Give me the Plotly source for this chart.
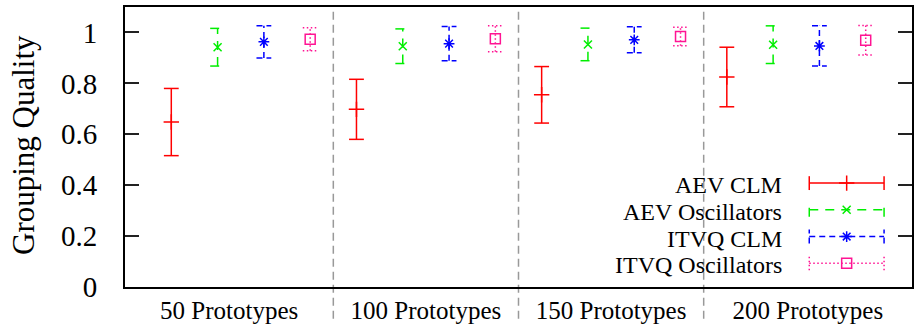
import plotly.graph_objects as go

# ---------------- data ----------------
groups = ["50 Prototypes", "100 Prototypes", "150 Prototypes", "200 Prototypes"]
series_names = ["AEV CLM", "AEV Oscillators", "ITVQ CLM", "ITVQ Oscillators"]

aev_clm_mean = [0.648, 0.698, 0.755, 0.825]
aev_clm_err = [0.132, 0.118, 0.111, 0.117]
aev_osc_mean = [0.942, 0.946, 0.953, 0.952]
aev_osc_err = [0.074, 0.068, 0.064, 0.074]
itvq_clm_mean = [0.963, 0.956, 0.971, 0.947]
itvq_clm_err = [0.063, 0.067, 0.051, 0.079]
itvq_osc_mean = [0.973, 0.975, 0.984, 0.969]
itvq_osc_err = [0.045, 0.051, 0.036, 0.058]

y_ticks = [0, 0.2, 0.4, 0.6, 0.8, 1]
y_tick_labels = ["0", "0.2", "0.4", "0.6", "0.8", "1"]

# ---------------- styles ----------------
FONT = "Liberation Serif"
styles = [
    dict(color="#ff0000", dash="solid", symbol="cross-thin", size=11),
    dict(color="#00ee00", dash="9px,7px", symbol="x-thin", size=8),
    dict(color="#0000ff", dash="6px,4px", symbol="asterisk", size=9),
    dict(color="#ff1493", dash="1.5px,2.5px", symbol="square-open", size=10),
]
means = [aev_clm_mean, aev_osc_mean, itvq_clm_mean, itvq_osc_mean]
errs = [aev_clm_err, aev_osc_err, itvq_clm_err, itvq_osc_err]

n_series = len(series_names)
n_groups = len(groups)
cap = 0.16  # half cap width in x units

fig = go.Figure()

for s in range(n_series):
    st = styles[s]
    xs = [g * n_series + s + 1 for g in range(n_groups)]
    px, py = [], []
    for x, m, e in zip(xs, means[s], errs[s]):
        lo, hi = m - e, m + e
        px += [x - cap, x + cap, None, x, x, None, x - cap, x + cap, None]
        py += [lo, lo, None, lo, hi, None, hi, hi, None]
    fig.add_trace(go.Scatter(x=px, y=py, mode="lines", showlegend=False,
                             line=dict(color=st["color"], width=1.5, dash=st["dash"]),
                             hoverinfo="skip"))
    fig.add_trace(go.Scatter(x=xs, y=means[s], mode="markers", name=series_names[s],
                             showlegend=False,
                             marker=dict(symbol=st["symbol"], size=st["size"],
                                         color=st["color"],
                                         line=dict(color=st["color"], width=1.5))))

# ---------------- custom legend (overlay axes in pixel units) ----------------
PW, PH = 789, 283
leg_text_x = 660
leg_a, leg_b = 686, 761
leg_rows = [105, 78, 51, 24]
leg_cap = 7
for s in range(n_series):
    st = styles[s]
    yy = leg_rows[s]
    fig.add_trace(go.Scatter(
        x=[leg_a, leg_a, None, leg_a, leg_b, None, leg_b, leg_b],
        y=[yy - leg_cap, yy + leg_cap, None, yy, yy, None, yy - leg_cap, yy + leg_cap],
        mode="lines", xaxis="x2", yaxis="y2", showlegend=False, hoverinfo="skip",
        line=dict(color=st["color"], width=1.5, dash=st["dash"])))
    fig.add_trace(go.Scatter(
        x=[(leg_a + leg_b) / 2], y=[yy], mode="markers", xaxis="x2", yaxis="y2",
        showlegend=False, hoverinfo="skip",
        marker=dict(symbol=st["symbol"], size=st["size"], color=st["color"],
                    line=dict(color=st["color"], width=1.5))))
    fig.add_annotation(x=leg_text_x, y=yy, xref="x2", yref="y2", text=series_names[s],
                       showarrow=False, xanchor="right", yanchor="middle", yshift=-2,
                       height=24, borderpad=0,
                       font=dict(family=FONT, size=24, color="black"))

# ---------------- separators ----------------
bounds = [0] + [g * n_series + n_series + 0.5 for g in range(n_groups - 1)] + [n_groups * n_series + 1]
for b in bounds[1:-1]:
    fig.add_shape(type="line", x0=b, x1=b, xref="x", y0=-0.113, y1=1, yref="paper",
                  line=dict(color="#999999", width=1.5, dash="8px,5px"), layer="below")
centers = [(bounds[i] + bounds[i + 1]) / 2 for i in range(n_groups)]

# y axis title
fig.add_annotation(x=0, y=0.5, xref="paper", yref="paper", xshift=-102, yshift=2,
                   text="Grouping Quality", textangle=-90, showarrow=False,
                   xanchor="center", yanchor="middle",
                   font=dict(family=FONT, size=31, color="black"))

fig.update_layout(
    width=914, height=324,
    margin=dict(l=125, r=0, t=7, b=34),
    paper_bgcolor="white", plot_bgcolor="white",
    showlegend=False,
    xaxis=dict(range=[0, n_groups * n_series + 1], tickvals=centers, ticktext=groups,
               ticks="", showgrid=False, zeroline=False, showline=True, mirror=True,
               linecolor="black", linewidth=2,
               tickfont=dict(family=FONT, size=25, color="black")),
    yaxis=dict(range=[0, 1.1], tickvals=y_ticks, ticktext=y_tick_labels,
               ticks="inside", ticklen=14, tickwidth=1.5, tickcolor="#222222",
               showgrid=False, zeroline=False, showline=True, mirror="ticks",
               linecolor="black", linewidth=2, ticklabelstandoff=20,
               tickfont=dict(family=FONT, size=29, color="black")),
    xaxis2=dict(range=[0, PW], overlaying="x", visible=False),
    yaxis2=dict(range=[0, PH], overlaying="y", visible=False),
)

fig.write_html("out.html", config={"displayModeBar": False},
               post_script="document.body.style.margin='0';document.body.style.overflow='hidden';")
